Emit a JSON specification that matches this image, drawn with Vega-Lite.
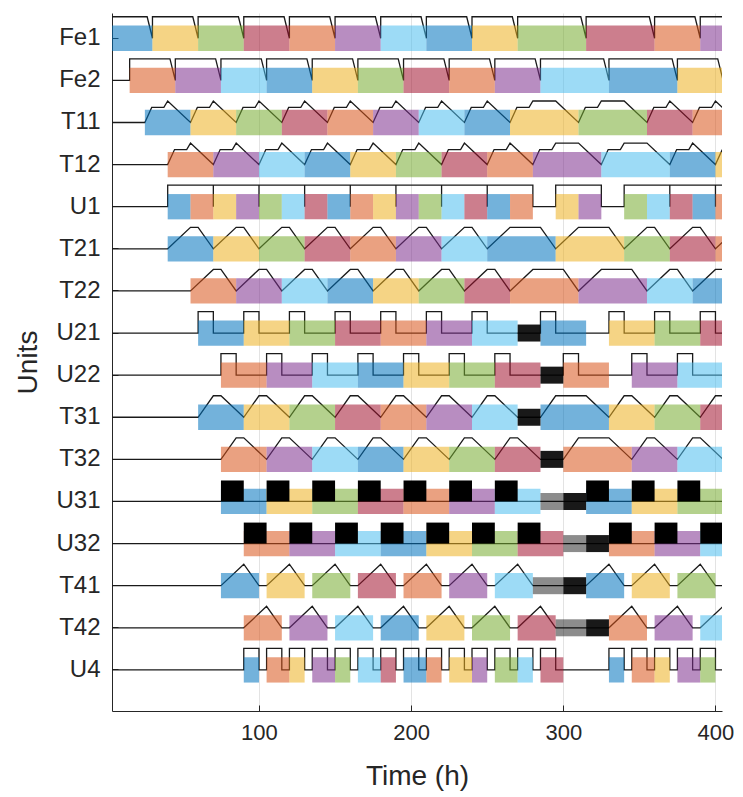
{
  "$schema": "https://vega.github.io/schema/vega-lite/v6.json",
  "autosize": {"type": "none"},
  "padding": {"left": 112, "top": 13, "right": 23, "bottom": 86},
  "width": 610,
  "height": 698,
  "config": {
    "view": {"stroke": null},
    "font": "Liberation Sans",
    "axis": {
      "labelFont": "Liberation Sans",
      "titleFont": "Liberation Sans",
      "labelColor": "#262626",
      "titleColor": "#262626",
      "domainColor": "#262626",
      "tickColor": "#262626",
      "labelFontSize": 22,
      "titleFontSize": 28,
      "titleFontWeight": "normal"
    }
  },
  "datasets": {
    "lines": [
      {"u":"Fe1","t":0,"v":1},{"u":"Fe1","t":26.5,"v":1},{"u":"Fe1","t":30,"v":0},{"u":"Fe1","t":30,"v":1},{"u":"Fe1","t":56.5,"v":1},{"u":"Fe1","t":60,"v":0},{"u":"Fe1","t":60,"v":1},{"u":"Fe1","t":86.5,"v":1},{"u":"Fe1","t":90,"v":0},{"u":"Fe1","t":90,"v":1},{"u":"Fe1","t":116.5,"v":1},{"u":"Fe1","t":120,"v":0},{"u":"Fe1","t":120,"v":1},{"u":"Fe1","t":146.5,"v":1},{"u":"Fe1","t":150,"v":0},{"u":"Fe1","t":150,"v":1},{"u":"Fe1","t":176.5,"v":1},{"u":"Fe1","t":180,"v":0},{"u":"Fe1","t":180,"v":1},{"u":"Fe1","t":206.5,"v":1},{"u":"Fe1","t":210,"v":0},{"u":"Fe1","t":210,"v":1},{"u":"Fe1","t":236.5,"v":1},{"u":"Fe1","t":240,"v":0},{"u":"Fe1","t":240,"v":1},{"u":"Fe1","t":266.5,"v":1},{"u":"Fe1","t":270,"v":0},{"u":"Fe1","t":270,"v":1},{"u":"Fe1","t":311.5,"v":1},{"u":"Fe1","t":315,"v":0},{"u":"Fe1","t":315,"v":1},{"u":"Fe1","t":356.5,"v":1},{"u":"Fe1","t":360,"v":0},{"u":"Fe1","t":360,"v":1},{"u":"Fe1","t":386.5,"v":1},{"u":"Fe1","t":390,"v":0},{"u":"Fe1","t":390,"v":1},{"u":"Fe1","t":406,"v":1},
      {"u":"Fe2","t":0,"v":0},{"u":"Fe2","t":15,"v":0},{"u":"Fe2","t":15,"v":1},{"u":"Fe2","t":41.5,"v":1},{"u":"Fe2","t":45,"v":0},{"u":"Fe2","t":45,"v":1},{"u":"Fe2","t":71.5,"v":1},{"u":"Fe2","t":75,"v":0},{"u":"Fe2","t":75,"v":1},{"u":"Fe2","t":101.5,"v":1},{"u":"Fe2","t":105,"v":0},{"u":"Fe2","t":105,"v":1},{"u":"Fe2","t":131.5,"v":1},{"u":"Fe2","t":135,"v":0},{"u":"Fe2","t":135,"v":1},{"u":"Fe2","t":161.5,"v":1},{"u":"Fe2","t":165,"v":0},{"u":"Fe2","t":165,"v":1},{"u":"Fe2","t":191.5,"v":1},{"u":"Fe2","t":195,"v":0},{"u":"Fe2","t":195,"v":1},{"u":"Fe2","t":221.5,"v":1},{"u":"Fe2","t":225,"v":0},{"u":"Fe2","t":225,"v":1},{"u":"Fe2","t":251.5,"v":1},{"u":"Fe2","t":255,"v":0},{"u":"Fe2","t":255,"v":1},{"u":"Fe2","t":281.5,"v":1},{"u":"Fe2","t":285,"v":0},{"u":"Fe2","t":285,"v":1},{"u":"Fe2","t":326.5,"v":1},{"u":"Fe2","t":330,"v":0},{"u":"Fe2","t":330,"v":1},{"u":"Fe2","t":371.5,"v":1},{"u":"Fe2","t":375,"v":0},{"u":"Fe2","t":375,"v":1},{"u":"Fe2","t":401.5,"v":1},{"u":"Fe2","t":405,"v":0},
      {"u":"T11","t":0,"v":0},{"u":"T11","t":25,"v":0},{"u":"T11","t":29.5,"v":0.7},{"u":"T11","t":37.5,"v":0.7},{"u":"T11","t":40,"v":1},{"u":"T11","t":55,"v":0},{"u":"T11","t":59.5,"v":0.7},{"u":"T11","t":67.5,"v":0.7},{"u":"T11","t":70,"v":1},{"u":"T11","t":85,"v":0},{"u":"T11","t":89.5,"v":0.7},{"u":"T11","t":97.5,"v":0.7},{"u":"T11","t":100,"v":1},{"u":"T11","t":115,"v":0},{"u":"T11","t":119.5,"v":0.7},{"u":"T11","t":127.5,"v":0.7},{"u":"T11","t":130,"v":1},{"u":"T11","t":145,"v":0},{"u":"T11","t":149.5,"v":0.7},{"u":"T11","t":157.5,"v":0.7},{"u":"T11","t":160,"v":1},{"u":"T11","t":175,"v":0},{"u":"T11","t":179.5,"v":0.7},{"u":"T11","t":187.5,"v":0.7},{"u":"T11","t":190,"v":1},{"u":"T11","t":205,"v":0},{"u":"T11","t":209.5,"v":0.7},{"u":"T11","t":217.5,"v":0.7},{"u":"T11","t":220,"v":1},{"u":"T11","t":235,"v":0},{"u":"T11","t":239.5,"v":0.7},{"u":"T11","t":247.5,"v":0.7},{"u":"T11","t":250,"v":1},{"u":"T11","t":265,"v":0},{"u":"T11","t":269.5,"v":0.7},{"u":"T11","t":277.5,"v":0.7},{"u":"T11","t":280,"v":1},{"u":"T11","t":295,"v":1},{"u":"T11","t":310,"v":0},{"u":"T11","t":314.5,"v":0.7},{"u":"T11","t":322.5,"v":0.7},{"u":"T11","t":325,"v":1},{"u":"T11","t":340,"v":1},{"u":"T11","t":355,"v":0},{"u":"T11","t":359.5,"v":0.7},{"u":"T11","t":367.5,"v":0.7},{"u":"T11","t":370,"v":1},{"u":"T11","t":385,"v":0},{"u":"T11","t":389.5,"v":0.7},{"u":"T11","t":397.5,"v":0.7},{"u":"T11","t":400,"v":1},{"u":"T11","t":415,"v":0},
      {"u":"T12","t":0,"v":0},{"u":"T12","t":40,"v":0},{"u":"T12","t":44.5,"v":0.7},{"u":"T12","t":52.5,"v":0.7},{"u":"T12","t":55,"v":1},{"u":"T12","t":70,"v":0},{"u":"T12","t":74.5,"v":0.7},{"u":"T12","t":82.5,"v":0.7},{"u":"T12","t":85,"v":1},{"u":"T12","t":100,"v":0},{"u":"T12","t":104.5,"v":0.7},{"u":"T12","t":112.5,"v":0.7},{"u":"T12","t":115,"v":1},{"u":"T12","t":130,"v":0},{"u":"T12","t":134.5,"v":0.7},{"u":"T12","t":142.5,"v":0.7},{"u":"T12","t":145,"v":1},{"u":"T12","t":160,"v":0},{"u":"T12","t":164.5,"v":0.7},{"u":"T12","t":172.5,"v":0.7},{"u":"T12","t":175,"v":1},{"u":"T12","t":190,"v":0},{"u":"T12","t":194.5,"v":0.7},{"u":"T12","t":202.5,"v":0.7},{"u":"T12","t":205,"v":1},{"u":"T12","t":220,"v":0},{"u":"T12","t":224.5,"v":0.7},{"u":"T12","t":232.5,"v":0.7},{"u":"T12","t":235,"v":1},{"u":"T12","t":250,"v":0},{"u":"T12","t":254.5,"v":0.7},{"u":"T12","t":262.5,"v":0.7},{"u":"T12","t":265,"v":1},{"u":"T12","t":280,"v":0},{"u":"T12","t":284.5,"v":0.7},{"u":"T12","t":292.5,"v":0.7},{"u":"T12","t":295,"v":1},{"u":"T12","t":310,"v":1},{"u":"T12","t":325,"v":0},{"u":"T12","t":329.5,"v":0.7},{"u":"T12","t":337.5,"v":0.7},{"u":"T12","t":340,"v":1},{"u":"T12","t":355,"v":1},{"u":"T12","t":370,"v":0},{"u":"T12","t":374.5,"v":0.7},{"u":"T12","t":382.5,"v":0.7},{"u":"T12","t":385,"v":1},{"u":"T12","t":400,"v":0},{"u":"T12","t":404.5,"v":0.7},
      {"u":"U1","t":0,"v":0},{"u":"U1","t":40,"v":0},{"u":"U1","t":40,"v":1},{"u":"U1","t":70,"v":1},{"u":"U1","t":70,"v":0},{"u":"U1","t":70,"v":1},{"u":"U1","t":100,"v":1},{"u":"U1","t":100,"v":0},{"u":"U1","t":100,"v":1},{"u":"U1","t":130,"v":1},{"u":"U1","t":130,"v":0},{"u":"U1","t":130,"v":1},{"u":"U1","t":160,"v":1},{"u":"U1","t":160,"v":0},{"u":"U1","t":160,"v":1},{"u":"U1","t":190,"v":1},{"u":"U1","t":190,"v":0},{"u":"U1","t":190,"v":1},{"u":"U1","t":220,"v":1},{"u":"U1","t":220,"v":0},{"u":"U1","t":220,"v":1},{"u":"U1","t":250,"v":1},{"u":"U1","t":250,"v":0},{"u":"U1","t":250,"v":1},{"u":"U1","t":280,"v":1},{"u":"U1","t":280,"v":0},{"u":"U1","t":295,"v":0},{"u":"U1","t":295,"v":1},{"u":"U1","t":325,"v":1},{"u":"U1","t":325,"v":0},{"u":"U1","t":340,"v":0},{"u":"U1","t":340,"v":1},{"u":"U1","t":370,"v":1},{"u":"U1","t":370,"v":0},{"u":"U1","t":370,"v":1},{"u":"U1","t":400,"v":1},{"u":"U1","t":400,"v":0},{"u":"U1","t":400,"v":1},{"u":"U1","t":406,"v":1},
      {"u":"T21","t":0,"v":0},{"u":"T21","t":40,"v":0},{"u":"T21","t":55,"v":1},{"u":"T21","t":60,"v":1},{"u":"T21","t":70,"v":0},{"u":"T21","t":85,"v":1},{"u":"T21","t":90,"v":1},{"u":"T21","t":100,"v":0},{"u":"T21","t":115,"v":1},{"u":"T21","t":120,"v":1},{"u":"T21","t":130,"v":0},{"u":"T21","t":145,"v":1},{"u":"T21","t":150,"v":1},{"u":"T21","t":160,"v":0},{"u":"T21","t":175,"v":1},{"u":"T21","t":180,"v":1},{"u":"T21","t":190,"v":0},{"u":"T21","t":205,"v":1},{"u":"T21","t":210,"v":1},{"u":"T21","t":220,"v":0},{"u":"T21","t":235,"v":1},{"u":"T21","t":240,"v":1},{"u":"T21","t":250,"v":0},{"u":"T21","t":265,"v":1},{"u":"T21","t":285,"v":1},{"u":"T21","t":295,"v":0},{"u":"T21","t":310,"v":1},{"u":"T21","t":330,"v":1},{"u":"T21","t":340,"v":0},{"u":"T21","t":355,"v":1},{"u":"T21","t":360,"v":1},{"u":"T21","t":370,"v":0},{"u":"T21","t":385,"v":1},{"u":"T21","t":390,"v":1},{"u":"T21","t":400,"v":0},{"u":"T21","t":415,"v":1},
      {"u":"T22","t":0,"v":0},{"u":"T22","t":55,"v":0},{"u":"T22","t":70,"v":1},{"u":"T22","t":75,"v":1},{"u":"T22","t":85,"v":0},{"u":"T22","t":100,"v":1},{"u":"T22","t":105,"v":1},{"u":"T22","t":115,"v":0},{"u":"T22","t":130,"v":1},{"u":"T22","t":135,"v":1},{"u":"T22","t":145,"v":0},{"u":"T22","t":160,"v":1},{"u":"T22","t":165,"v":1},{"u":"T22","t":175,"v":0},{"u":"T22","t":190,"v":1},{"u":"T22","t":195,"v":1},{"u":"T22","t":205,"v":0},{"u":"T22","t":220,"v":1},{"u":"T22","t":225,"v":1},{"u":"T22","t":235,"v":0},{"u":"T22","t":250,"v":1},{"u":"T22","t":255,"v":1},{"u":"T22","t":265,"v":0},{"u":"T22","t":280,"v":1},{"u":"T22","t":300,"v":1},{"u":"T22","t":310,"v":0},{"u":"T22","t":325,"v":1},{"u":"T22","t":345,"v":1},{"u":"T22","t":355,"v":0},{"u":"T22","t":370,"v":1},{"u":"T22","t":375,"v":1},{"u":"T22","t":385,"v":0},{"u":"T22","t":400,"v":1},{"u":"T22","t":406,"v":1},
      {"u":"U21","t":0,"v":0},{"u":"U21","t":60,"v":0},{"u":"U21","t":60,"v":1},{"u":"U21","t":70,"v":1},{"u":"U21","t":70,"v":0},{"u":"U21","t":90,"v":0},{"u":"U21","t":90,"v":1},{"u":"U21","t":100,"v":1},{"u":"U21","t":100,"v":0},{"u":"U21","t":120,"v":0},{"u":"U21","t":120,"v":1},{"u":"U21","t":130,"v":1},{"u":"U21","t":130,"v":0},{"u":"U21","t":150,"v":0},{"u":"U21","t":150,"v":1},{"u":"U21","t":160,"v":1},{"u":"U21","t":160,"v":0},{"u":"U21","t":180,"v":0},{"u":"U21","t":180,"v":1},{"u":"U21","t":190,"v":1},{"u":"U21","t":190,"v":0},{"u":"U21","t":210,"v":0},{"u":"U21","t":210,"v":1},{"u":"U21","t":220,"v":1},{"u":"U21","t":220,"v":0},{"u":"U21","t":240,"v":0},{"u":"U21","t":240,"v":1},{"u":"U21","t":250,"v":1},{"u":"U21","t":250,"v":0},{"u":"U21","t":285,"v":0},{"u":"U21","t":285,"v":1},{"u":"U21","t":295,"v":1},{"u":"U21","t":295,"v":0},{"u":"U21","t":330,"v":0},{"u":"U21","t":330,"v":1},{"u":"U21","t":340,"v":1},{"u":"U21","t":340,"v":0},{"u":"U21","t":360,"v":0},{"u":"U21","t":360,"v":1},{"u":"U21","t":370,"v":1},{"u":"U21","t":370,"v":0},{"u":"U21","t":390,"v":0},{"u":"U21","t":390,"v":1},{"u":"U21","t":400,"v":1},{"u":"U21","t":400,"v":0},{"u":"U21","t":406,"v":0},
      {"u":"U22","t":0,"v":0},{"u":"U22","t":75,"v":0},{"u":"U22","t":75,"v":1},{"u":"U22","t":85,"v":1},{"u":"U22","t":85,"v":0},{"u":"U22","t":105,"v":0},{"u":"U22","t":105,"v":1},{"u":"U22","t":115,"v":1},{"u":"U22","t":115,"v":0},{"u":"U22","t":135,"v":0},{"u":"U22","t":135,"v":1},{"u":"U22","t":145,"v":1},{"u":"U22","t":145,"v":0},{"u":"U22","t":165,"v":0},{"u":"U22","t":165,"v":1},{"u":"U22","t":175,"v":1},{"u":"U22","t":175,"v":0},{"u":"U22","t":195,"v":0},{"u":"U22","t":195,"v":1},{"u":"U22","t":205,"v":1},{"u":"U22","t":205,"v":0},{"u":"U22","t":225,"v":0},{"u":"U22","t":225,"v":1},{"u":"U22","t":235,"v":1},{"u":"U22","t":235,"v":0},{"u":"U22","t":255,"v":0},{"u":"U22","t":255,"v":1},{"u":"U22","t":265,"v":1},{"u":"U22","t":265,"v":0},{"u":"U22","t":300,"v":0},{"u":"U22","t":300,"v":1},{"u":"U22","t":310,"v":1},{"u":"U22","t":310,"v":0},{"u":"U22","t":345,"v":0},{"u":"U22","t":345,"v":1},{"u":"U22","t":355,"v":1},{"u":"U22","t":355,"v":0},{"u":"U22","t":375,"v":0},{"u":"U22","t":375,"v":1},{"u":"U22","t":385,"v":1},{"u":"U22","t":385,"v":0},{"u":"U22","t":406,"v":0},
      {"u":"T31","t":0,"v":0},{"u":"T31","t":60,"v":0},{"u":"T31","t":70,"v":1},{"u":"T31","t":75,"v":1},{"u":"T31","t":90,"v":0},{"u":"T31","t":100,"v":1},{"u":"T31","t":105,"v":1},{"u":"T31","t":120,"v":0},{"u":"T31","t":130,"v":1},{"u":"T31","t":135,"v":1},{"u":"T31","t":150,"v":0},{"u":"T31","t":160,"v":1},{"u":"T31","t":165,"v":1},{"u":"T31","t":180,"v":0},{"u":"T31","t":190,"v":1},{"u":"T31","t":195,"v":1},{"u":"T31","t":210,"v":0},{"u":"T31","t":220,"v":1},{"u":"T31","t":225,"v":1},{"u":"T31","t":240,"v":0},{"u":"T31","t":250,"v":1},{"u":"T31","t":255,"v":1},{"u":"T31","t":270,"v":0},{"u":"T31","t":285,"v":0},{"u":"T31","t":295,"v":1},{"u":"T31","t":315,"v":1},{"u":"T31","t":330,"v":0},{"u":"T31","t":340,"v":1},{"u":"T31","t":345,"v":1},{"u":"T31","t":360,"v":0},{"u":"T31","t":370,"v":1},{"u":"T31","t":375,"v":1},{"u":"T31","t":390,"v":0},{"u":"T31","t":400,"v":1},{"u":"T31","t":406,"v":1},
      {"u":"T32","t":0,"v":0},{"u":"T32","t":75,"v":0},{"u":"T32","t":85,"v":1},{"u":"T32","t":90,"v":1},{"u":"T32","t":105,"v":0},{"u":"T32","t":115,"v":1},{"u":"T32","t":120,"v":1},{"u":"T32","t":135,"v":0},{"u":"T32","t":145,"v":1},{"u":"T32","t":150,"v":1},{"u":"T32","t":165,"v":0},{"u":"T32","t":175,"v":1},{"u":"T32","t":180,"v":1},{"u":"T32","t":195,"v":0},{"u":"T32","t":205,"v":1},{"u":"T32","t":210,"v":1},{"u":"T32","t":225,"v":0},{"u":"T32","t":235,"v":1},{"u":"T32","t":240,"v":1},{"u":"T32","t":255,"v":0},{"u":"T32","t":265,"v":1},{"u":"T32","t":270,"v":1},{"u":"T32","t":285,"v":0},{"u":"T32","t":300,"v":0},{"u":"T32","t":310,"v":1},{"u":"T32","t":330,"v":1},{"u":"T32","t":345,"v":0},{"u":"T32","t":355,"v":1},{"u":"T32","t":360,"v":1},{"u":"T32","t":375,"v":0},{"u":"T32","t":385,"v":1},{"u":"T32","t":390,"v":1},{"u":"T32","t":405,"v":0},
      {"u":"U31","t":0,"v":0},{"u":"U31","t":406,"v":0},
      {"u":"U32","t":0,"v":0},{"u":"U32","t":406,"v":0},
      {"u":"T41","t":0,"v":0},{"u":"T41","t":75,"v":0},{"u":"T41","t":90,"v":1},{"u":"T41","t":100,"v":0},{"u":"T41","t":105,"v":0},{"u":"T41","t":120,"v":1},{"u":"T41","t":130,"v":0},{"u":"T41","t":135,"v":0},{"u":"T41","t":150,"v":1},{"u":"T41","t":160,"v":0},{"u":"T41","t":165,"v":0},{"u":"T41","t":180,"v":1},{"u":"T41","t":190,"v":0},{"u":"T41","t":195,"v":0},{"u":"T41","t":210,"v":1},{"u":"T41","t":220,"v":0},{"u":"T41","t":225,"v":0},{"u":"T41","t":240,"v":1},{"u":"T41","t":250,"v":0},{"u":"T41","t":255,"v":0},{"u":"T41","t":270,"v":1},{"u":"T41","t":280,"v":0},{"u":"T41","t":315,"v":0},{"u":"T41","t":330,"v":1},{"u":"T41","t":340,"v":0},{"u":"T41","t":345,"v":0},{"u":"T41","t":360,"v":1},{"u":"T41","t":370,"v":0},{"u":"T41","t":375,"v":0},{"u":"T41","t":390,"v":1},{"u":"T41","t":400,"v":0},{"u":"T41","t":406,"v":0},
      {"u":"T42","t":0,"v":0},{"u":"T42","t":90,"v":0},{"u":"T42","t":105,"v":1},{"u":"T42","t":115,"v":0},{"u":"T42","t":120,"v":0},{"u":"T42","t":135,"v":1},{"u":"T42","t":145,"v":0},{"u":"T42","t":150,"v":0},{"u":"T42","t":165,"v":1},{"u":"T42","t":175,"v":0},{"u":"T42","t":180,"v":0},{"u":"T42","t":195,"v":1},{"u":"T42","t":205,"v":0},{"u":"T42","t":210,"v":0},{"u":"T42","t":225,"v":1},{"u":"T42","t":235,"v":0},{"u":"T42","t":240,"v":0},{"u":"T42","t":255,"v":1},{"u":"T42","t":265,"v":0},{"u":"T42","t":270,"v":0},{"u":"T42","t":285,"v":1},{"u":"T42","t":295,"v":0},{"u":"T42","t":330,"v":0},{"u":"T42","t":345,"v":1},{"u":"T42","t":355,"v":0},{"u":"T42","t":360,"v":0},{"u":"T42","t":375,"v":1},{"u":"T42","t":385,"v":0},{"u":"T42","t":390,"v":0},{"u":"T42","t":405,"v":1},
      {"u":"U4","t":0,"v":0},{"u":"U4","t":90,"v":0},{"u":"U4","t":90,"v":1},{"u":"U4","t":100,"v":1},{"u":"U4","t":100,"v":0},{"u":"U4","t":105,"v":0},{"u":"U4","t":105,"v":1},{"u":"U4","t":115,"v":1},{"u":"U4","t":115,"v":0},{"u":"U4","t":120,"v":0},{"u":"U4","t":120,"v":1},{"u":"U4","t":130,"v":1},{"u":"U4","t":130,"v":0},{"u":"U4","t":135,"v":0},{"u":"U4","t":135,"v":1},{"u":"U4","t":145,"v":1},{"u":"U4","t":145,"v":0},{"u":"U4","t":150,"v":0},{"u":"U4","t":150,"v":1},{"u":"U4","t":160,"v":1},{"u":"U4","t":160,"v":0},{"u":"U4","t":165,"v":0},{"u":"U4","t":165,"v":1},{"u":"U4","t":175,"v":1},{"u":"U4","t":175,"v":0},{"u":"U4","t":180,"v":0},{"u":"U4","t":180,"v":1},{"u":"U4","t":190,"v":1},{"u":"U4","t":190,"v":0},{"u":"U4","t":195,"v":0},{"u":"U4","t":195,"v":1},{"u":"U4","t":205,"v":1},{"u":"U4","t":205,"v":0},{"u":"U4","t":210,"v":0},{"u":"U4","t":210,"v":1},{"u":"U4","t":220,"v":1},{"u":"U4","t":220,"v":0},{"u":"U4","t":225,"v":0},{"u":"U4","t":225,"v":1},{"u":"U4","t":235,"v":1},{"u":"U4","t":235,"v":0},{"u":"U4","t":240,"v":0},{"u":"U4","t":240,"v":1},{"u":"U4","t":250,"v":1},{"u":"U4","t":250,"v":0},{"u":"U4","t":255,"v":0},{"u":"U4","t":255,"v":1},{"u":"U4","t":265,"v":1},{"u":"U4","t":265,"v":0},{"u":"U4","t":270,"v":0},{"u":"U4","t":270,"v":1},{"u":"U4","t":280,"v":1},{"u":"U4","t":280,"v":0},{"u":"U4","t":285,"v":0},{"u":"U4","t":285,"v":1},{"u":"U4","t":295,"v":1},{"u":"U4","t":295,"v":0},{"u":"U4","t":330,"v":0},{"u":"U4","t":330,"v":1},{"u":"U4","t":340,"v":1},{"u":"U4","t":340,"v":0},{"u":"U4","t":345,"v":0},{"u":"U4","t":345,"v":1},{"u":"U4","t":355,"v":1},{"u":"U4","t":355,"v":0},{"u":"U4","t":360,"v":0},{"u":"U4","t":360,"v":1},{"u":"U4","t":370,"v":1},{"u":"U4","t":370,"v":0},{"u":"U4","t":375,"v":0},{"u":"U4","t":375,"v":1},{"u":"U4","t":385,"v":1},{"u":"U4","t":385,"v":0},{"u":"U4","t":390,"v":0},{"u":"U4","t":390,"v":1},{"u":"U4","t":400,"v":1},{"u":"U4","t":400,"v":0},{"u":"U4","t":406,"v":0}
    ],
    "bars": [
      {"u":"Fe1","n":1,"t":0,"t2":30},{"u":"Fe1","n":3,"t":30,"t2":60},{"u":"Fe1","n":5,"t":60,"t2":90},{"u":"Fe1","n":7,"t":90,"t2":120},{"u":"Fe1","n":9,"t":120,"t2":150},{"u":"Fe1","n":11,"t":150,"t2":180},{"u":"Fe1","n":13,"t":180,"t2":210},{"u":"Fe1","n":15,"t":210,"t2":240},{"u":"Fe1","n":17,"t":240,"t2":270},{"u":"Fe1","n":19,"t":270,"t2":315},{"u":"Fe1","n":21,"t":315,"t2":360},{"u":"Fe1","n":23,"t":360,"t2":390},{"u":"Fe1","n":25,"t":390,"t2":420},
      {"u":"Fe2","n":2,"t":15,"t2":45},{"u":"Fe2","n":4,"t":45,"t2":75},{"u":"Fe2","n":6,"t":75,"t2":105},{"u":"Fe2","n":8,"t":105,"t2":135},{"u":"Fe2","n":10,"t":135,"t2":165},{"u":"Fe2","n":12,"t":165,"t2":195},{"u":"Fe2","n":14,"t":195,"t2":225},{"u":"Fe2","n":16,"t":225,"t2":255},{"u":"Fe2","n":18,"t":255,"t2":285},{"u":"Fe2","n":20,"t":285,"t2":330},{"u":"Fe2","n":22,"t":330,"t2":375},{"u":"Fe2","n":24,"t":375,"t2":420},
      {"u":"T11","n":1,"t":25,"t2":55},{"u":"T11","n":3,"t":55,"t2":85},{"u":"T11","n":5,"t":85,"t2":115},{"u":"T11","n":7,"t":115,"t2":145},{"u":"T11","n":9,"t":145,"t2":175},{"u":"T11","n":11,"t":175,"t2":205},{"u":"T11","n":13,"t":205,"t2":235},{"u":"T11","n":15,"t":235,"t2":265},{"u":"T11","n":17,"t":265,"t2":310},{"u":"T11","n":19,"t":310,"t2":355},{"u":"T11","n":21,"t":355,"t2":385},{"u":"T11","n":23,"t":385,"t2":415},
      {"u":"T12","n":2,"t":40,"t2":70},{"u":"T12","n":4,"t":70,"t2":100},{"u":"T12","n":6,"t":100,"t2":130},{"u":"T12","n":8,"t":130,"t2":160},{"u":"T12","n":10,"t":160,"t2":190},{"u":"T12","n":12,"t":190,"t2":220},{"u":"T12","n":14,"t":220,"t2":250},{"u":"T12","n":16,"t":250,"t2":280},{"u":"T12","n":18,"t":280,"t2":325},{"u":"T12","n":20,"t":325,"t2":370},{"u":"T12","n":22,"t":370,"t2":400},{"u":"T12","n":24,"t":400,"t2":430},
      {"u":"U1","n":1,"t":40,"t2":55},{"u":"U1","n":2,"t":55,"t2":70},{"u":"U1","n":3,"t":70,"t2":85},{"u":"U1","n":4,"t":85,"t2":100},{"u":"U1","n":5,"t":100,"t2":115},{"u":"U1","n":6,"t":115,"t2":130},{"u":"U1","n":7,"t":130,"t2":145},{"u":"U1","n":8,"t":145,"t2":160},{"u":"U1","n":9,"t":160,"t2":175},{"u":"U1","n":10,"t":175,"t2":190},{"u":"U1","n":11,"t":190,"t2":205},{"u":"U1","n":12,"t":205,"t2":220},{"u":"U1","n":13,"t":220,"t2":235},{"u":"U1","n":14,"t":235,"t2":250},{"u":"U1","n":15,"t":250,"t2":265},{"u":"U1","n":16,"t":265,"t2":280},{"u":"U1","n":17,"t":295,"t2":310},{"u":"U1","n":18,"t":310,"t2":325},{"u":"U1","n":19,"t":340,"t2":355},{"u":"U1","n":20,"t":355,"t2":370},{"u":"U1","n":21,"t":370,"t2":385},{"u":"U1","n":22,"t":385,"t2":400},{"u":"U1","n":23,"t":400,"t2":415},
      {"u":"T21","n":1,"t":40,"t2":70},{"u":"T21","n":3,"t":70,"t2":100},{"u":"T21","n":5,"t":100,"t2":130},{"u":"T21","n":7,"t":130,"t2":160},{"u":"T21","n":9,"t":160,"t2":190},{"u":"T21","n":11,"t":190,"t2":220},{"u":"T21","n":13,"t":220,"t2":250},{"u":"T21","n":15,"t":250,"t2":295},{"u":"T21","n":17,"t":295,"t2":340},{"u":"T21","n":19,"t":340,"t2":370},{"u":"T21","n":21,"t":370,"t2":400},{"u":"T21","n":23,"t":400,"t2":430},
      {"u":"T22","n":2,"t":55,"t2":85},{"u":"T22","n":4,"t":85,"t2":115},{"u":"T22","n":6,"t":115,"t2":145},{"u":"T22","n":8,"t":145,"t2":175},{"u":"T22","n":10,"t":175,"t2":205},{"u":"T22","n":12,"t":205,"t2":235},{"u":"T22","n":14,"t":235,"t2":265},{"u":"T22","n":16,"t":265,"t2":310},{"u":"T22","n":18,"t":310,"t2":355},{"u":"T22","n":20,"t":355,"t2":385},{"u":"T22","n":22,"t":385,"t2":415},
      {"u":"U21","n":1,"t":60,"t2":90},{"u":"U21","n":3,"t":90,"t2":120},{"u":"U21","n":5,"t":120,"t2":150},{"u":"U21","n":7,"t":150,"t2":180},{"u":"U21","n":9,"t":180,"t2":210},{"u":"U21","n":11,"t":210,"t2":240},{"u":"U21","n":13,"t":240,"t2":270},{"u":"U21","n":15,"t":285,"t2":315},{"u":"U21","n":17,"t":330,"t2":360},{"u":"U21","n":19,"t":360,"t2":390},{"u":"U21","n":21,"t":390,"t2":420},
      {"u":"U22","n":2,"t":75,"t2":105},{"u":"U22","n":4,"t":105,"t2":135},{"u":"U22","n":6,"t":135,"t2":165},{"u":"U22","n":8,"t":165,"t2":195},{"u":"U22","n":10,"t":195,"t2":225},{"u":"U22","n":12,"t":225,"t2":255},{"u":"U22","n":14,"t":255,"t2":285},{"u":"U22","n":16,"t":300,"t2":330},{"u":"U22","n":18,"t":345,"t2":375},{"u":"U22","n":20,"t":375,"t2":405},
      {"u":"T31","n":1,"t":60,"t2":90},{"u":"T31","n":3,"t":90,"t2":120},{"u":"T31","n":5,"t":120,"t2":150},{"u":"T31","n":7,"t":150,"t2":180},{"u":"T31","n":9,"t":180,"t2":210},{"u":"T31","n":11,"t":210,"t2":240},{"u":"T31","n":13,"t":240,"t2":270},{"u":"T31","n":15,"t":285,"t2":330},{"u":"T31","n":17,"t":330,"t2":360},{"u":"T31","n":19,"t":360,"t2":390},{"u":"T31","n":21,"t":390,"t2":420},
      {"u":"T32","n":2,"t":75,"t2":105},{"u":"T32","n":4,"t":105,"t2":135},{"u":"T32","n":6,"t":135,"t2":165},{"u":"T32","n":8,"t":165,"t2":195},{"u":"T32","n":10,"t":195,"t2":225},{"u":"T32","n":12,"t":225,"t2":255},{"u":"T32","n":14,"t":255,"t2":285},{"u":"T32","n":16,"t":300,"t2":345},{"u":"T32","n":18,"t":345,"t2":375},{"u":"T32","n":20,"t":375,"t2":405},
      {"u":"U31","n":1,"t":75,"t2":105},{"u":"U31","n":3,"t":105,"t2":135},{"u":"U31","n":5,"t":135,"t2":165},{"u":"U31","n":7,"t":165,"t2":195},{"u":"U31","n":9,"t":195,"t2":225},{"u":"U31","n":11,"t":225,"t2":255},{"u":"U31","n":13,"t":255,"t2":285},{"u":"U31","n":15,"t":315,"t2":345},{"u":"U31","n":17,"t":345,"t2":375},{"u":"U31","n":19,"t":375,"t2":405},
      {"u":"U32","n":2,"t":90,"t2":120},{"u":"U32","n":4,"t":120,"t2":150},{"u":"U32","n":6,"t":150,"t2":180},{"u":"U32","n":8,"t":180,"t2":210},{"u":"U32","n":10,"t":210,"t2":240},{"u":"U32","n":12,"t":240,"t2":270},{"u":"U32","n":14,"t":270,"t2":300},{"u":"U32","n":16,"t":330,"t2":360},{"u":"U32","n":18,"t":360,"t2":390},{"u":"U32","n":20,"t":390,"t2":420},
      {"u":"T41","n":1,"t":75,"t2":100},{"u":"T41","n":3,"t":105,"t2":130},{"u":"T41","n":5,"t":135,"t2":160},{"u":"T41","n":7,"t":165,"t2":190},{"u":"T41","n":9,"t":195,"t2":220},{"u":"T41","n":11,"t":225,"t2":250},{"u":"T41","n":13,"t":255,"t2":280},{"u":"T41","n":15,"t":315,"t2":340},{"u":"T41","n":17,"t":345,"t2":370},{"u":"T41","n":19,"t":375,"t2":400},
      {"u":"T42","n":2,"t":90,"t2":115},{"u":"T42","n":4,"t":120,"t2":145},{"u":"T42","n":6,"t":150,"t2":175},{"u":"T42","n":8,"t":180,"t2":205},{"u":"T42","n":10,"t":210,"t2":235},{"u":"T42","n":12,"t":240,"t2":265},{"u":"T42","n":14,"t":270,"t2":295},{"u":"T42","n":16,"t":330,"t2":355},{"u":"T42","n":18,"t":360,"t2":385},{"u":"T42","n":20,"t":390,"t2":415},
      {"u":"U4","n":1,"t":90,"t2":100},{"u":"U4","n":2,"t":105,"t2":120},{"u":"U4","n":3,"t":120,"t2":130},{"u":"U4","n":4,"t":135,"t2":150},{"u":"U4","n":5,"t":150,"t2":160},{"u":"U4","n":6,"t":165,"t2":180},{"u":"U4","n":7,"t":180,"t2":190},{"u":"U4","n":8,"t":195,"t2":210},{"u":"U4","n":9,"t":210,"t2":220},{"u":"U4","n":10,"t":225,"t2":240},{"u":"U4","n":11,"t":240,"t2":250},{"u":"U4","n":12,"t":255,"t2":270},{"u":"U4","n":13,"t":270,"t2":280},{"u":"U4","n":14,"t":285,"t2":300},{"u":"U4","n":15,"t":330,"t2":340},{"u":"U4","n":16,"t":345,"t2":360},{"u":"U4","n":17,"t":360,"t2":370},{"u":"U4","n":18,"t":375,"t2":390},{"u":"U4","n":19,"t":390,"t2":400}
    ],
    "idle": [
      {"u":"U21","s":"down","t":270,"t2":285},{"u":"U22","s":"down","t":285,"t2":300},{"u":"T31","s":"down","t":270,"t2":285},{"u":"T32","s":"down","t":285,"t2":300},
      {"u":"U31","s":"wait","t":285,"t2":300},{"u":"U31","s":"down","t":300,"t2":315},{"u":"U32","s":"wait","t":300,"t2":315},{"u":"U32","s":"down","t":315,"t2":330},
      {"u":"T41","s":"wait","t":280,"t2":300},{"u":"T41","s":"down","t":300,"t2":315},{"u":"T42","s":"wait","t":295,"t2":315},{"u":"T42","s":"down","t":315,"t2":330}
    ],
    "squares": [
      {"u":"U31","t":75,"t2":90},{"u":"U31","t":105,"t2":120},{"u":"U31","t":135,"t2":150},{"u":"U31","t":165,"t2":180},{"u":"U31","t":195,"t2":210},{"u":"U31","t":225,"t2":240},{"u":"U31","t":255,"t2":270},{"u":"U31","t":315,"t2":330},{"u":"U31","t":345,"t2":360},{"u":"U31","t":375,"t2":390},
      {"u":"U32","t":90,"t2":105},{"u":"U32","t":120,"t2":135},{"u":"U32","t":150,"t2":165},{"u":"U32","t":180,"t2":195},{"u":"U32","t":210,"t2":225},{"u":"U32","t":240,"t2":255},{"u":"U32","t":270,"t2":285},{"u":"U32","t":330,"t2":345},{"u":"U32","t":360,"t2":375},{"u":"U32","t":390,"t2":405}
    ]
  },
  "encoding": {
    "x": {
      "field": "t", "type": "quantitative",
      "scale": {"domain": [3.4, 404.3], "nice": false, "zero": false},
      "axis": {
        "values": [100, 200, 300, 400], "grid": true, "gridColor": "#e3e3e3",
        "tickSize": -6, "labelPadding": 17, "title": "Time (h)",
        "titleBaseline": "middle", "titleY": 65, "titleX": 305
      }
    },
    "y": {
      "field": "u", "type": "nominal",
      "scale": {"domain": ["Fe1","Fe2","T11","T12","U1","T21","T22","U21","U22","T31","T32","U31","U32","T41","T42","U4"], "paddingInner": 0, "paddingOuter": 0.288, "align": 0.174},
      "axis": {
        "grid": false, "tickSize": -6, "labelPadding": 18, "labelFontSize": 24, "title": "Units",
        "titleX": -84, "titleY": 349, "titleAlign": "center", "titleBaseline": "middle"
      }
    }
  },
  "layer": [
    {
      "data": {"name": "lines"},
      "mark": {"type": "line", "clip": true, "color": "#1a1a1a", "strokeWidth": 1.3},
      "encoding": {
        "detail": {"field": "u"},
        "yOffset": {"field": "v", "type": "quantitative", "scale": {"domain": [0, 1], "range": [21.05, -0.45]}},
        "order": {"value": null}
      }
    },
    {
      "data": {"name": "bars"},
      "mark": {"type": "bar", "clip": true, "height": 25.3, "opacity": 0.55},
      "encoding": {
        "x2": {"field": "t2"},
        "color": {
          "field": "n", "type": "nominal", "legend": null,
          "scale": {
            "domain": [1,2,3,4,5,6,7,8,9,10,11,12,13,14,15,16,17,18,19,20,21,22,23,24,25],
            "range": ["#0072BD","#D95319","#EDB120","#7E2F8E","#77AC30","#4DBEEE","#A2142F","#0072BD","#D95319","#EDB120","#7E2F8E","#77AC30","#4DBEEE","#A2142F","#0072BD","#D95319","#EDB120","#7E2F8E","#77AC30","#4DBEEE","#A2142F","#0072BD","#D95319","#EDB120","#7E2F8E"]
          }
        }
      }
    },
    {
      "data": {"name": "idle"},
      "mark": {"type": "bar", "clip": true, "height": 17, "color": "black"},
      "encoding": {
        "x2": {"field": "t2"},
        "opacity": {"field": "s", "type": "nominal", "legend": null, "scale": {"domain": ["wait", "down"], "range": [0.45, 0.9]}}
      }
    },
    {
      "data": {"name": "squares"},
      "mark": {"type": "bar", "clip": true, "height": 21, "yOffset": -10.5, "color": "black"},
      "encoding": {"x2": {"field": "t2"}}
    }
  ]
}
